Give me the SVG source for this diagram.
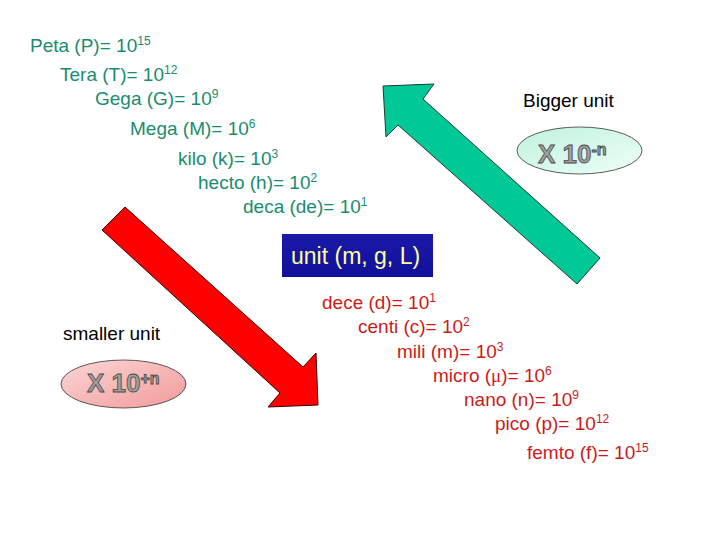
<svg xmlns="http://www.w3.org/2000/svg" width="720" height="540" viewBox="0 0 720 540">
<defs>
<linearGradient id="gGreen" x1="0" y1="0" x2="1" y2="1">
<stop offset="0" stop-color="#bff2dc"/><stop offset="1" stop-color="#eefff8"/>
</linearGradient>
<linearGradient id="gPink" x1="0" y1="0" x2="1" y2="1">
<stop offset="0" stop-color="#fbd6d6"/><stop offset="1" stop-color="#f29a9a"/>
</linearGradient>
<linearGradient id="gBlue" x1="0" y1="0" x2="0" y2="1">
<stop offset="0" stop-color="#1a1aa8"/><stop offset="1" stop-color="#10109a"/>
</linearGradient>
</defs>
<style>
text{font-family:"Liberation Sans",Arial,sans-serif;}
.g{fill:#1a8c6e;font-size:19px;}
.r{fill:#cc1a1a;font-size:19px;}
.k{fill:#000;font-size:19px;}
.s{font-size:12px;}
.emb{font-size:26px;font-weight:bold;fill:#a0a0a0;stroke:#4a4a4a;stroke-width:0.8px;}
.embs{font-size:16px;}
.ell{stroke:#333;stroke-width:0.8;}
</style>
<g id="connectors">
<polygon id="green-arrow" points="383,86 434,84 423,99 600,258 577,284 398,125 386,137" fill="#00c896" stroke="#1f3b30" stroke-width="1"/>
<polygon id="red-arrow" points="125,207 303,367 316,353 318,405 268,407 280,393 102,230" fill="#ff0000" stroke="#3a0000" stroke-width="1"/>
</g>
<g id="big-prefixes">
<text class="g" x="30" y="52">Peta (P)= 10<tspan class="s" dy="-7">15</tspan></text>
<text class="g" x="60" y="81">Tera (T)= 10<tspan class="s" dy="-7">12</tspan></text>
<text class="g" x="95" y="105">Gega (G)= 10<tspan class="s" dy="-7">9</tspan></text>
<text class="g" x="130" y="135">Mega (M)= 10<tspan class="s" dy="-7">6</tspan></text>
<text class="g" x="178" y="165">kilo (k)= 10<tspan class="s" dy="-7">3</tspan></text>
<text class="g" x="198" y="189">hecto (h)= 10<tspan class="s" dy="-7">2</tspan></text>
<text class="g" x="243" y="213">deca (de)= 10<tspan class="s" dy="-7">1</tspan></text>
</g>
<g id="bigger-unit">
<text class="k" x="523" y="107">Bigger unit</text>
<ellipse class="ell" cx="579.5" cy="150.5" rx="62.5" ry="23.5" fill="url(#gGreen)"/>
<text class="emb" x="538" y="163">X 10<tspan class="embs" dy="-8">-n</tspan></text>
</g>
<g id="unit">
<rect x="282" y="234" width="151" height="43" fill="url(#gBlue)"/>
<text x="291" y="264" style="fill:#ffff99;font-size:23px;">unit (m, g, L)</text>
</g>
<g id="smaller-unit">
<text class="k" x="63" y="340">smaller unit</text>
<ellipse class="ell" cx="123.5" cy="384" rx="62.5" ry="24" fill="url(#gPink)"/>
<text class="emb" x="87" y="392">X 10<tspan class="embs" dy="-8">+n</tspan></text>
</g>
<g id="small-prefixes">
<text class="r" x="322" y="309">dece (d)= 10<tspan class="s" dy="-7">1</tspan></text>
<text class="r" x="358" y="333">centi (c)= 10<tspan class="s" dy="-7">2</tspan></text>
<text class="r" x="397" y="358">mili (m)= 10<tspan class="s" dy="-7">3</tspan></text>
<text class="r" x="433" y="382">micro (<tspan style="font-family:'Liberation Serif',serif;">μ</tspan>)= 10<tspan class="s" dy="-7">6</tspan></text>
<text class="r" x="464" y="406">nano (n)= 10<tspan class="s" dy="-7">9</tspan></text>
<text class="r" x="495" y="430">pico (p)= 10<tspan class="s" dy="-7">12</tspan></text>
<text class="r" x="527" y="459">femto (f)= 10<tspan class="s" dy="-7">15</tspan></text>
</g>
</svg>
